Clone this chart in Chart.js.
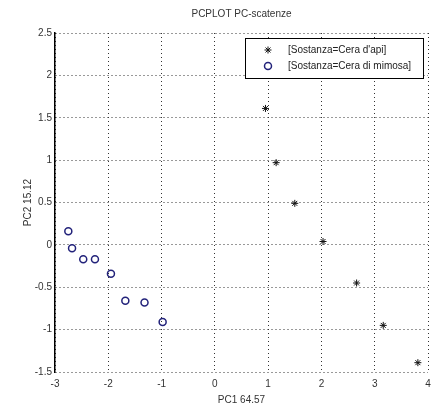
<!DOCTYPE html>
<html>
<head>
<meta charset="utf-8">
<script src="https://cdn.jsdelivr.net/npm/chart.js@4.4.1/dist/chart.umd.min.js"></script>
<style>
  html, body { margin: 0; padding: 0; background: #fff; }
  #wrap { width: 441px; height: 407px; }
</style>
</head>
<body>
<div id="wrap"><canvas id="chart1"></canvas></div>
<script>
    "use strict";

    // data
    var chartTitle = 'PCPLOT PC-scatenze';
    var seriesNames = ["[Sostanza=Cera d'api]", "[Sostanza=Cera di mimosa]"];
    var apiX = [0.95, 1.15, 1.50, 2.03, 2.66, 3.16, 3.81];
    var apiY = [1.61, 0.97, 0.49, 0.04, -0.45, -0.95, -1.39];
    var mimX = [-2.75, -2.68, -2.47, -2.25, -1.95, -1.68, -1.32, -0.98];
    var mimY = [0.16, -0.04, -0.17, -0.17, -0.34, -0.66, -0.68, -0.91];
    var xTicks = [-3, -2, -1, 0, 1, 2, 3, 4];
    var yTicks = [-1.5, -1, -0.5, 0, 0.5, 1, 1.5, 2, 2.5];

    function pts(xs, ys) {
        return xs.map(function (x, i) { return { x: x, y: ys[i] }; });
    }

    // title centred over the plot box, legend box inside top right
    var boxLegend = {
        id: 'boxLegend',
        afterDraw: function (chart) {
            var c = chart.ctx, a = chart.chartArea;
            c.save();
            c.font = '10px "Liberation Sans"';
            c.fillStyle = '#333';
            c.textAlign = 'center';
            c.textBaseline = 'middle';
            c.fillText(chartTitle, (a.left + a.right) / 2, 14);

            var x0 = a.right - 183, y0 = a.top + 5, w = 178, h = 40;
            c.fillStyle = '#fff';
            c.fillRect(x0, y0, w, h);
            c.strokeStyle = '#000';
            c.lineWidth = 1;
            c.strokeRect(x0 + 0.5, y0 + 0.5, w, h);
            c.textAlign = 'left';
            chart.data.datasets.forEach(function (ds, i) {
                var yy = y0 + 12 + i * 16;
                c.strokeStyle = ds.borderColor;
                c.fillStyle = ds.backgroundColor;
                c.lineWidth = ds.borderWidth;
                Chart.helpers.drawPoint(c, {
                    pointStyle: ds.pointStyle, radius: ds.pointRadius,
                    borderWidth: ds.borderWidth, rotation: 0
                }, x0 + 23, yy);
                c.fillStyle = '#222';
                c.fillText(ds.label, x0 + 43, yy);
            });
            c.restore();
        }
    };

    var ctx = document.getElementById('chart1').getContext('2d');

    var myChart = new Chart(ctx, {
        type: 'scatter',
        data: {
            datasets: [{
                label: seriesNames[0],
                data: pts(apiX, apiY),
                pointStyle: 'star',
                pointRadius: 3.5,
                borderColor: '#111',
                backgroundColor: '#111',
                borderWidth: 1
            }, {
                label: seriesNames[1],
                data: pts(mimX, mimY),
                pointStyle: 'circle',
                pointRadius: 3.5,
                borderColor: '#22227a',
                backgroundColor: 'rgba(0,0,0,0)',
                borderWidth: 1.5
            }]
        },
        plugins: [boxLegend],
        options: {
            responsive: true,
            maintainAspectRatio: false,
            animation: false,
            layout: { padding: { left: 22, right: 13, top: 33, bottom: 0 } },
            plugins: {
                legend: { display: false },
                tooltip: { enabled: false },
                title: { display: false }
            },
            scales: {
                x: {
                    type: 'linear',
                    min: -3,
                    max: 4,
                    afterBuildTicks: function (s) { s.ticks = xTicks.map(function (v) { return { value: v }; }); },
                    afterFit: function (s) { s.height = 35; },
                    grid: { color: '#333', lineWidth: 1, drawTicks: false },
                    border: { display: false, dash: [1, 3] },
                    ticks: {
                        color: '#333',
                        padding: 6,
                        font: { family: 'Liberation Sans', size: 10 }
                    },
                    title: {
                        display: true,
                        text: 'PC1 64.57',
                        color: '#333',
                        padding: { top: 0, bottom: 1 },
                        font: { family: 'Liberation Sans', size: 10 }
                    }
                },
                y: {
                    type: 'linear',
                    min: -1.5,
                    max: 2.5,
                    afterBuildTicks: function (s) { s.ticks = yTicks.map(function (v) { return { value: v }; }); },
                    afterFit: function (s) { s.width = 33; },
                    grid: { color: '#333', lineWidth: 1, drawTicks: false },
                    border: { display: true, color: '#000', width: 1.5, dash: [1, 3] },
                    ticks: {
                        color: '#333',
                        padding: 3,
                        font: { family: 'Liberation Sans', size: 10 },
                        callback: function (v) { return String(v); }
                    },
                    title: {
                        display: true,
                        text: 'PC2 15.12',
                        color: '#333',
                        padding: { top: 0, bottom: 0 },
                        font: { family: 'Liberation Sans', size: 10 }
                    }
                }
            }
        }
    });
</script>
</body>
</html>
